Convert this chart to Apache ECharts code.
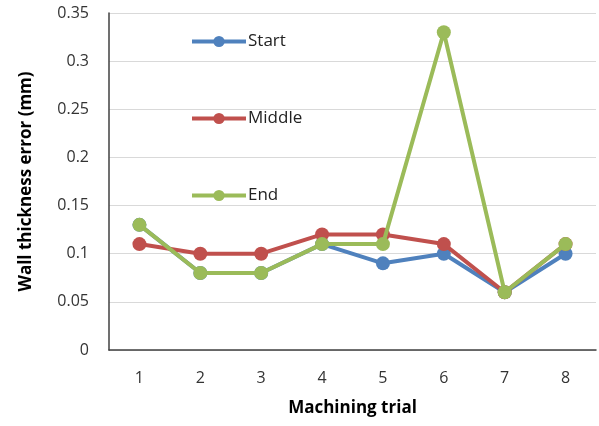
<!DOCTYPE html>
<html><head><meta charset="utf-8">
<script src="https://cdn.jsdelivr.net/npm/echarts@6/dist/echarts.min.js"></script>
<style>html,body{margin:0;padding:0;background:#fff}#c{width:599px;height:426px}</style>
</head><body><div id="c"></div>
<script>
const categories = ['1','2','3','4','5','6','7','8'];
const startVals = [0.13, 0.08, 0.08, 0.11, 0.09, 0.10, 0.06, 0.10];
const middleVals = [0.11, 0.10, 0.10, 0.12, 0.12, 0.11, 0.06, 0.11];
const endVals = [0.13, 0.08, 0.08, 0.11, 0.11, 0.33, 0.06, 0.11];
const seriesNames = ['Start', 'Middle', 'End'];
const yTicks = {min: 0, max: 0.35, interval: 0.05};

const font = "'Open Sans', 'Liberation Sans', sans-serif";
const chart = echarts.init(document.getElementById('c'));
const colors = ['#4F81BD', '#C0504D', '#9BBB59'];
const mk = (name, data, i) => ({
  name, type: 'line', data, color: colors[i],
  lineStyle: {width: 4, color: colors[i]},
  itemStyle: {color: colors[i]},
  symbol: 'circle', symbolSize: 14, z: 2 + i
});
chart.setOption({
  animation: false,
  textStyle: {fontFamily: font},
  grid: {left: 109, right: 3, top: 13, bottom: 76},
  legend: {
    orient: 'vertical', left: 185, top: 28, itemWidth: 54, itemHeight: 14, itemGap: 60,
    lineStyle: {width: 4},
    textStyle: {fontSize: 17, color: '#222', fontFamily: font, padding: [0, 0, 0, -3]},
    data: seriesNames
  },
  xAxis: {
    type: 'category', data: categories, boundaryGap: true,
    name: 'Machining trial', nameLocation: 'middle', nameGap: 50,
    nameTextStyle: {fontSize: 17, fontWeight: 'bold', color: '#000', fontFamily: font},
    axisLine: {lineStyle: {color: '#404040', width: 1.5}},
    axisTick: {show: false},
    axisLabel: {fontSize: 16, color: '#333', margin: 20, fontFamily: font}
  },
  yAxis: {
    type: 'value', min: yTicks.min, max: yTicks.max, interval: yTicks.interval,
    name: 'Wall thickness error (mm)', nameLocation: 'middle', nameGap: 74,
    nameTextStyle: {fontSize: 17, fontWeight: 'bold', color: '#000', fontFamily: font},
    axisLine: {show: true, lineStyle: {color: '#404040', width: 1.5}},
    axisTick: {show: false},
    splitLine: {lineStyle: {color: '#d9d9d9', width: 1}},
    axisLabel: {fontSize: 16, color: '#333', margin: 20, fontFamily: font,
      formatter: v => String(Math.round(v * 100) / 100)}
  },
  series: [mk(seriesNames[0], startVals, 0), mk(seriesNames[1], middleVals, 1), mk(seriesNames[2], endVals, 2)]
});
</script></body></html>
